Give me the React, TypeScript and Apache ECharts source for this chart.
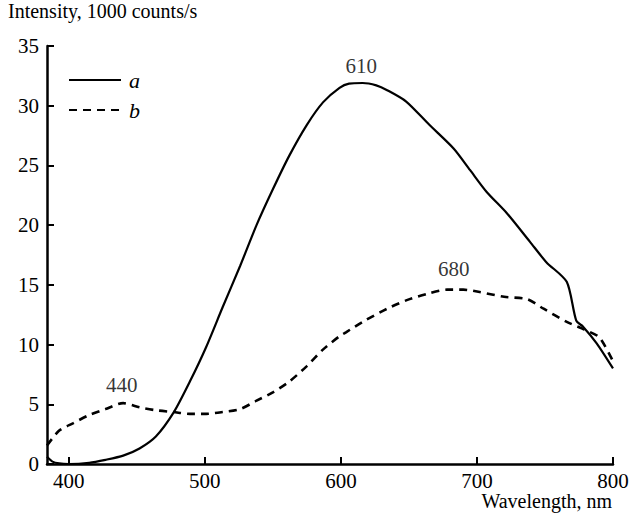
import React, { useEffect, useRef } from "react";
import * as echarts from "echarts";

const wavelengthA = [384, 388, 393, 400, 415, 427, 440, 452, 464, 477, 489, 501, 513, 526, 538, 550, 562, 575, 587, 599, 606, 616, 626, 634, 648, 665, 683, 695, 707, 722, 739, 751, 766, 773, 778, 788, 800];
const intensityA = [0.6, 0.2, 0.05, 0, 0.1, 0.35, 0.7, 1.3, 2.3, 4.3, 6.9, 9.8, 13.1, 16.6, 20.0, 23.0, 25.8, 28.4, 30.3, 31.5, 31.85, 31.9, 31.7, 31.3, 30.35, 28.4, 26.4, 24.6, 22.8, 21.0, 18.6, 16.9, 15.25, 12.0, 11.5, 10.1, 8.0];

const wavelengthB = [384, 393, 403, 415, 427, 440, 452, 464, 477, 489, 501, 513, 526, 538, 550, 562, 575, 587, 599, 604, 616, 634, 648, 665, 678, 690, 702, 720, 737, 749, 766, 779, 790, 800];
const intensityB = [1.55, 2.8, 3.4, 4.1, 4.6, 5.1, 4.75, 4.5, 4.35, 4.2, 4.2, 4.35, 4.6, 5.3, 6.0, 6.9, 8.2, 9.6, 10.7, 11.05, 11.9, 13.0, 13.7, 14.3, 14.6, 14.6, 14.4, 14.0, 13.8, 13.0, 11.9, 11.25, 10.6, 8.6];

const peakX = [615, 683, 439];
const peakY = [33.3, 16.3, 6.6];
const peakText = ["610", "680", "440"];

const xTicks = [400, 500, 600, 700, 800];
const seriesNames = ["a", "b"];

const FONT = "Liberation Serif, DejaVu Serif, Noto Serif, Times New Roman, serif";

export default function App() {
  const ref = useRef<HTMLDivElement>(null);
  useEffect(() => {
    document.body.style.margin = "0";
    if (!ref.current) return;
    const chart = echarts.init(ref.current, undefined, { renderer: "svg" });
    const black = "#000";
    chart.setOption({
      animation: false,
      backgroundColor: "#fff",
      textStyle: { fontFamily: FONT, color: black },
      grid: { left: 47, right: 30, top: 46, bottom: 60 },
      legend: {
        orient: "vertical",
        left: 68,
        top: 69,
        padding: 0,
        itemWidth: 52,
        itemHeight: 14,
        itemGap: 8,
        data: seriesNames,
        itemStyle: { opacity: 0 },
        textStyle: { fontFamily: FONT, fontStyle: "italic", fontSize: 22, color: black, padding: [0, 0, 0, 3] },
      },
      xAxis: {
        type: "value",
        min: 384,
        max: 800,
        splitLine: { show: false },
        axisLine: { lineStyle: { color: black, width: 2.5 } },
        axisTick: { inside: true, length: 7, lineStyle: { color: black, width: 2 }, customValues: xTicks },
        axisLabel: { fontFamily: FONT, fontSize: 21, color: black, margin: 6, customValues: xTicks },
      },
      yAxis: {
        type: "value",
        min: 0,
        max: 35,
        interval: 5,
        splitLine: { show: false },
        axisLine: { show: true, lineStyle: { color: black, width: 2.5 } },
        axisTick: { show: true, inside: true, length: 7, lineStyle: { color: black, width: 2 } },
        axisLabel: { fontFamily: FONT, fontSize: 21, color: black, margin: 8 },
      },
      graphic: [
        {
          type: "text",
          left: 8,
          top: 1,
          style: { text: "Intensity, 1000 counts/s", fontFamily: FONT, fontSize: 20, fill: black },
        },
        {
          type: "text",
          right: 31,
          top: 491,
          style: { text: "Wavelength, nm", fontFamily: FONT, fontSize: 20, fill: black },
        },
      ],
      series: [
        {
          name: seriesNames[0],
          type: "line",
          symbol: "none",
          smooth: 0.25,
          lineStyle: { color: black, width: 2.2, type: "solid" },
          itemStyle: { color: black },
          data: wavelengthA.map((x, i) => [x, intensityA[i]]),
        },
        {
          name: seriesNames[1],
          type: "line",
          symbol: "none",
          smooth: 0.25,
          lineStyle: { color: black, width: 2.6, type: [8, 6] },
          itemStyle: { color: black },
          data: wavelengthB.map((x, i) => [x, intensityB[i]]),
        },
        {
          type: "scatter",
          symbolSize: 0,
          silent: true,
          label: {
            show: true,
            position: "inside",
            fontFamily: FONT,
            fontSize: 21,
            color: black,
            formatter: (p: any) => p.data[2],
          },
          data: peakX.map((x, i) => [x, peakY[i], peakText[i]]),
        },
      ],
    });
    return () => chart.dispose();
  }, []);
  return <div ref={ref} style={{ width: 643, height: 524 }} />;
}
